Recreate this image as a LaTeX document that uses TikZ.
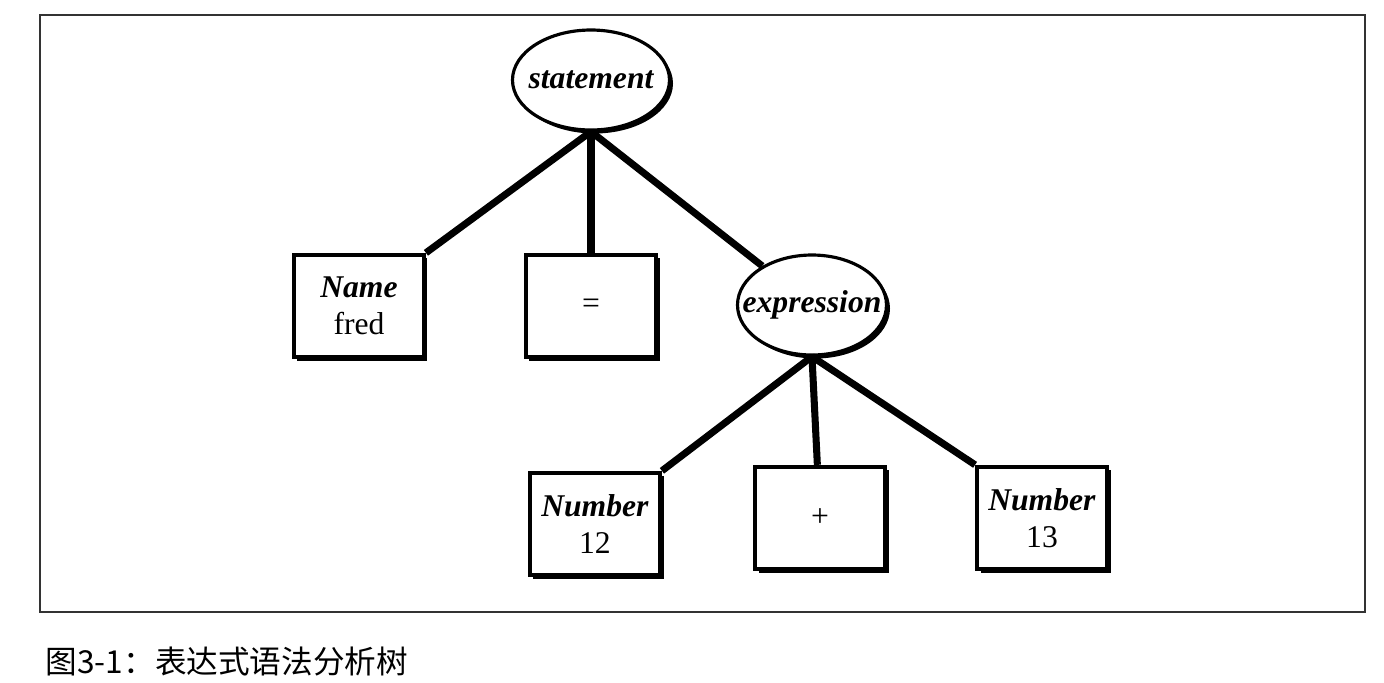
\documentclass[tikz,border=0pt]{standalone}
\usepackage{fontspec}
\setmainfont{Liberation Serif}
\newfontfamily\cjk{Noto Sans CJK SC}
\usetikzlibrary{positioning,shapes.geometric,shadows}

\newcommand{\rulename}[1]{\makebox[0pt]{#1}}

\begin{document}
\begin{tikzpicture}[auto, node distance=4.5cm, on grid,
	thick,
	shade/.style={drop shadow={fill=black,opacity=1,shadow xshift=0.07cm,shadow yshift=-0.07cm}},
	rule node/.style={ellipse,draw,line width=1.8pt,fill=white,inner sep=0pt,shade,
		minimum height=2cm,font=\fontsize{18}{21}\selectfont\bfseries\itshape},
	token node/.style={rectangle,draw,line width=2.2pt,fill=white,align=center,shade,
		minimum width=2.6cm,minimum height=2.05cm,font=\fontsize{18}{21}\selectfont}]
	
	\useasboundingbox (-11.82,1.6) rectangle (15.86,-12.04);
	
	\node[rule node,minimum width=3.14cm] (1) at (0,0) {\rulename{statement}};
	\node[token node] (2) [below left=4.52cm and 4.64cm of 1] {\textbf{\textit{Name}}\\fred};
	\node[token node] (3) [below=4.52cm of 1] {=};
	\node[rule node,minimum width=2.98cm] (4) [below right=4.5cm and 4.42cm of 1] {\rulename{expression}};
	\node[token node] (5) [below left=4.38cm and 4.34cm of 4] {\textbf{\textit{Number}}\\12};
	\node[token node] (6) [below right=4.26cm and 0.16cm of 4] {+};
	\node[token node] (7) [below right=4.26cm and 4.6cm of 4] {\textbf{\textit{Number}}\\13};
	
	\path[line width=4pt]
	(1.south) edge (2.north east)
	(1.south) edge (3)
	(1.south) edge (4)
	(4.south) edge (5.north east)
	(4.south) edge (6)
	(4.south) edge (7.north west);
	
	% frame and caption
	\draw[line width=1pt,black!80] (-11.02,1.3) rectangle (15.48,-10.64);
	\node[anchor=west,inner sep=0pt,font=\cjk\fontsize{18}{20}\selectfont] (cap) at (-10.92,-11.64) {图3-1：表达式语法分析树};
\end{tikzpicture}
\end{document}
